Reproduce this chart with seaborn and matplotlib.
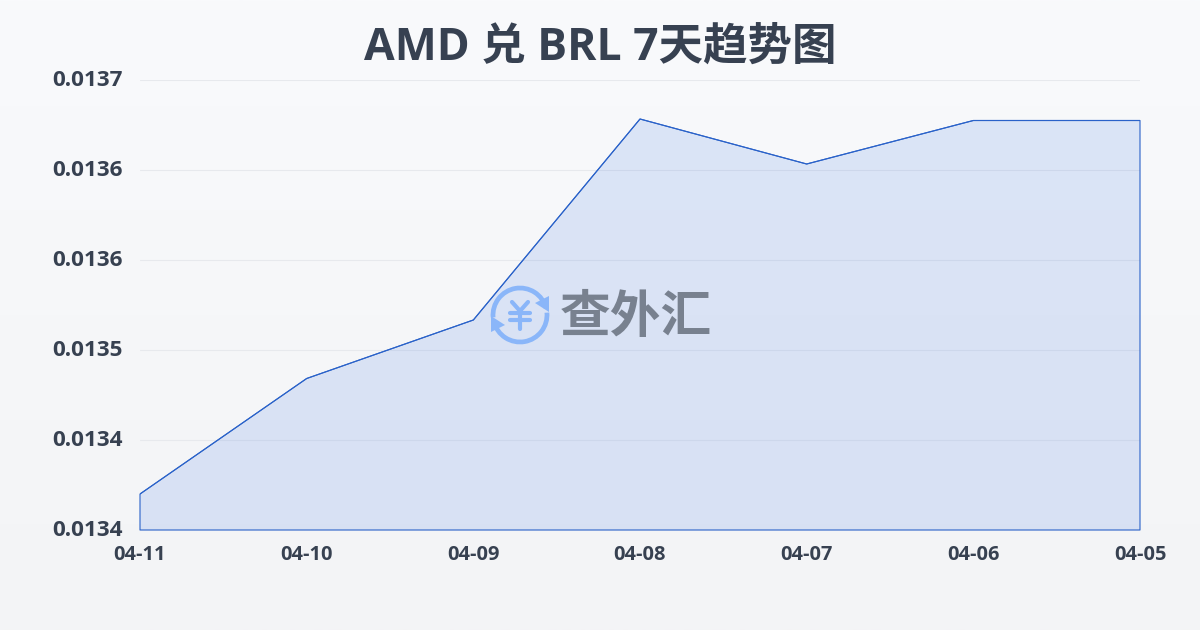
import numpy as np
import pandas as pd
import seaborn as sns
from matplotlib import pyplot as plt
from matplotlib.patches import Arc, Polygon
from matplotlib.transforms import ScaledTranslation

dates = ['04-11', '04-10', '04-09', '04-08', '04-07', '04-06', '04-05']
rates = [0.013404, 0.013481, 0.013520, 0.013654, 0.013624, 0.013653, 0.013653]
y_ticks = [0.01338, 0.01344, 0.01350, 0.01356, 0.01362, 0.01368]
title = 'AMD 兑 BRL 7天趋势图'

sns.set_theme(style='white')
plt.rcParams['font.family'] = ['Open Sans', 'Noto Sans CJK SC', 'DejaVu Sans']
dark = '#374151'
line_blue = '#2a62c9'
icon_blue = '#8ab6f9'

df = pd.DataFrame({'date': dates, 'rate': rates})
fig = plt.figure(figsize=(12, 6.3), dpi=100)

# фон с вертикальным градиентом
bg = fig.add_axes([0, 0, 1, 1], zorder=0)
bg.imshow(np.linspace(0, 1, 256).reshape(-1, 1), aspect='auto',
          cmap=plt.matplotlib.colors.LinearSegmentedColormap.from_list('bg', ['#f9fafc', '#f3f4f6']))
bg.axis('off')

ax = fig.add_axes([140 / 1200, 100 / 630, 1000 / 1200, 450 / 630], zorder=1)
ax.patch.set_alpha(0)
sns.lineplot(data=df, x='date', y='rate', sort=False, color=line_blue, linewidth=0.8, ax=ax, zorder=3)
ax.fill_between(range(len(dates)), rates, y_ticks[0], facecolor='#1e60e0', alpha=0.13, edgecolor='none', zorder=2)
ax.fill_between(range(len(dates)), rates, y_ticks[0], facecolor='none', edgecolor=line_blue, linewidth=0.8, zorder=3, clip_on=False)
ax.set_xlim(0, len(dates) - 1)
ax.set_ylim(y_ticks[0], y_ticks[-1])
ax.set_yticks(y_ticks)
ax.set_yticklabels(['%.4f' % v for v in y_ticks], fontsize=16.2, fontweight='bold', color=dark)
ax.set_xticks(range(len(dates)))
ax.set_xticklabels(dates, fontsize=14.4, fontweight='bold', color=dark)
ax.grid(axis='y', color='#e7e9ed', linewidth=0.8)
ax.set_axisbelow(True)
ax.tick_params(axis='x', length=8, width=0.8, color='#e7e9ed', pad=3)
ax.tick_params(axis='y', length=0, pad=12.5)
ax.set_xlabel('')
ax.set_ylabel('')
sns.despine(ax=ax, left=True, bottom=True)

# подписи оси y чуть выше линий сетки
up = ScaledTranslation(0, 2 / 100, fig.dpi_scale_trans)
for label in ax.get_yticklabels():
    label.set_transform(label.get_transform() + up)

fig.text(0.5, 1 - 48 / 630, title, ha='center', va='center', fontsize=32, fontweight='bold', color=dark)

# водяной знак поверх графика, координаты в пикселях
wm = fig.add_axes([0, 0, 1, 1], zorder=2)
wm.set_xlim(0, 1200)
wm.set_ylim(630, 0)
wm.axis('off')
wm.patch.set_alpha(0)
wm.add_patch(Arc((520, 315), 54, 54, theta1=175, theta2=345, color=icon_blue, lw=3.4))
wm.add_patch(Arc((520, 315), 54, 54, theta1=-5, theta2=165, color=icon_blue, lw=3.4))
wm.add_patch(Polygon([(549, 296), (549, 312), (535, 303)], color=icon_blue, lw=0))
wm.add_patch(Polygon([(491, 316), (491, 332), (505, 325)], color=icon_blue, lw=0))
for xs, ys in [((512, 520, 528), (302, 311, 302)), ((510, 530), (313, 313)), ((510, 530), (320, 320)), ((520, 520), (311, 329))]:
    wm.plot(xs, ys, color=icon_blue, lw=3, solid_capstyle='round', solid_joinstyle='round')
wm.text(636, 319, '查外汇', ha='center', va='center', fontsize=36.5, fontweight='bold', color='#78818f')

fig.savefig('out.png', dpi=100)
